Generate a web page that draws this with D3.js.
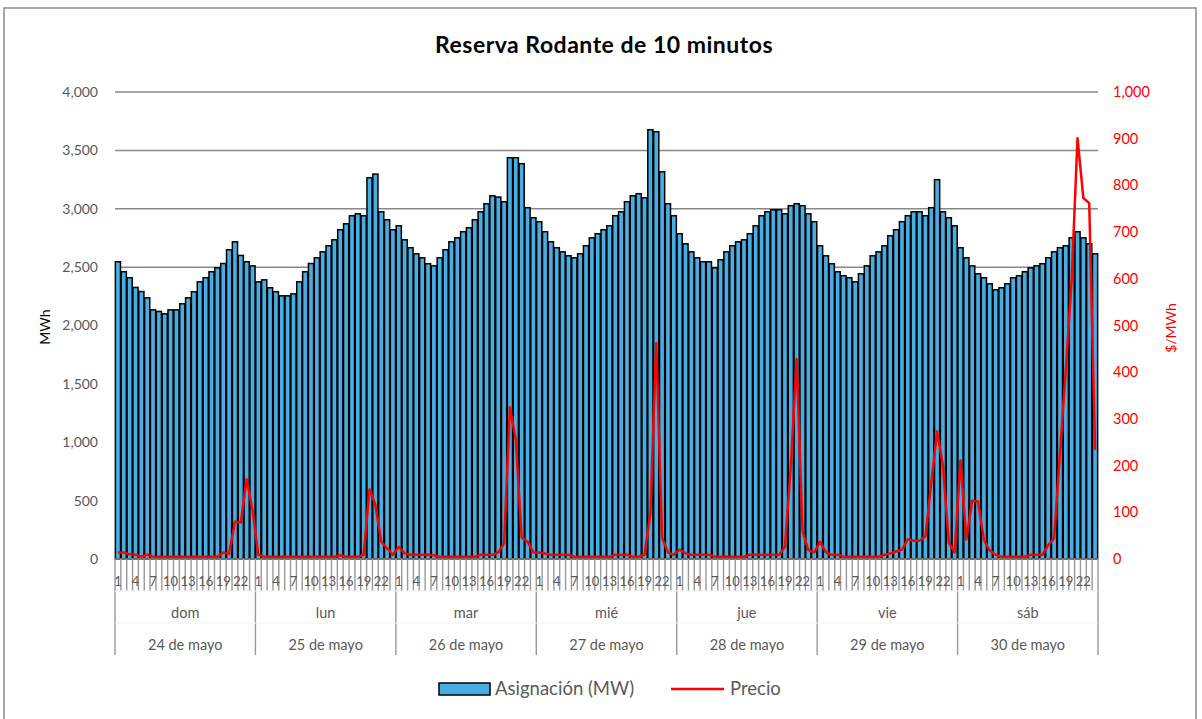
<!DOCTYPE html>
<html>
<head>
<meta charset="utf-8">
<script src="https://cdn.jsdelivr.net/npm/d3@7"></script>
<style>
  body { margin: 0; background: #fff; }
  svg { display: block; font-family: Lato, "Open Sans", sans-serif; }
</style>
</head>
<body>
<svg id="chart" width="1202" height="719"></svg>
<script>
// days and dates of the week
const dias = ["dom", "lun", "mar", "mié", "jue", "vie", "sáb"];
const fechas = ["24 de mayo", "25 de mayo", "26 de mayo", "27 de mayo", "28 de mayo", "29 de mayo", "30 de mayo"];
const horas = d3.range(1, 25);
const horasConEtiqueta = [1, 4, 7, 10, 13, 16, 19, 22];

// Asignación (MW), 24 values per day
const asignacion = [
  2546,2460,2409,2326,2291,2237,2134,2120,2100,2134,2134,2186,2237,2289,2374,2409,2460,2494,2531,2649,2717,2600,2546,2511,
  2374,2391,2323,2289,2254,2254,2271,2374,2460,2531,2580,2631,2683,2734,2820,2871,2940,2957,2940,3266,3297,2974,2906,2820,
  2854,2734,2666,2614,2580,2529,2511,2580,2649,2717,2751,2803,2837,2906,2974,3043,3111,3100,3060,3437,3437,3386,3009,2923,
  2889,2803,2717,2666,2631,2597,2580,2614,2683,2751,2786,2820,2854,2940,2974,3060,3111,3129,3094,3677,3660,3317,3043,2940,
  2786,2700,2631,2580,2546,2546,2494,2563,2631,2683,2717,2734,2786,2854,2940,2974,2991,2991,2957,3026,3043,3026,2957,2889,
  2683,2597,2529,2460,2426,2409,2374,2443,2511,2597,2631,2683,2769,2820,2889,2940,2974,2974,2940,3009,3249,2974,2923,2854,
  2666,2580,2511,2443,2409,2357,2306,2323,2357,2409,2426,2460,2494,2511,2529,2580,2631,2666,2683,2751,2803,2751,2700,2614
];

// Precio ($/MWh), 24 values per day
const precio = [
  14,14,10,9,5,9,5,5,5,5,5,5,5,5,5,5,5,5,14,11,80,78,171,105,
  9,5,5,5,5,5,5,5,5,5,5,5,5,5,8,5,5,5,9,149,116,37,23,9,
  26,12,9,9,9,9,8,5,5,5,5,5,5,5,9,9,9,14,34,325,255,46,37,14,
  14,12,9,9,9,9,5,5,5,5,5,5,5,9,9,9,5,5,9,98,462,46,14,9,
  20,12,9,9,9,9,5,5,5,5,5,5,9,9,9,9,9,9,26,200,428,59,19,14,
  37,14,9,9,5,5,5,5,5,5,5,9,12,16,20,42,39,39,48,162,273,200,35,14,
  211,42,125,123,41,18,9,5,5,5,5,5,9,9,9,30,44,226,405,598,901,773,762,234
];

const ticksMW = [0, 500, 1000, 1500, 2000, 2500, 3000, 3500, 4000];
const ticksPrecio = [0, 100, 200, 300, 400, 500, 600, 700, 800, 900, 1000];

const svg = d3.select("#chart");
const plotL = 115, plotR = 1098, plotT = 92, plotB = 559;
const grey = "#595959";

// outer frame
svg.append("rect").attr("x", 4).attr("y", 8).attr("width", 1192).attr("height", 720)
  .attr("fill", "none").attr("stroke", "#8a8a8a").attr("stroke-width", 1.5);

const n = asignacion.length;
const x = d3.scaleBand().domain(d3.range(n)).range([plotL, plotR]).paddingInner(0.12).paddingOuter(0.06);
const step = (plotR - plotL) / n;
const y = d3.scaleLinear().domain([0, 4000]).range([plotB, plotT]);
const y2 = d3.scaleLinear().domain([0, 1000]).range([plotB, plotT]);

// gridlines
svg.append("g").selectAll("line").data(ticksMW).join("line")
  .attr("x1", plotL).attr("x2", plotR)
  .attr("y1", d => y(d)).attr("y2", d => y(d))
  .attr("stroke", "#888").attr("stroke-width", 1.5);

// left axis labels
svg.append("g").selectAll("text").data(ticksMW).join("text")
  .attr("x", 98).attr("y", d => y(d)).attr("dy", "0.35em")
  .attr("text-anchor", "end").attr("font-size", 14).attr("fill", grey)
  .text(d3.format(","));

// right axis labels
svg.append("g").selectAll("text").data(ticksPrecio).join("text")
  .attr("x", 1113).attr("y", d => y2(d)).attr("dy", "0.35em")
  .attr("font-size", 14.5).attr("fill", "#ff0000")
  .text(d3.format(","));

svg.append("text").attr("transform", "translate(50,327) rotate(-90)")
  .attr("text-anchor", "middle").attr("font-size", 14).attr("fill", "#000").text("MWh");
svg.append("text").attr("transform", "translate(1176,328) rotate(-90)")
  .attr("text-anchor", "middle").attr("font-size", 14).attr("fill", "#ff0000").text("$/MWh");

// bars
svg.append("g").selectAll("rect").data(asignacion).join("rect")
  .attr("x", (d, i) => x(i)).attr("width", x.bandwidth())
  .attr("y", d => y(d)).attr("height", d => plotB - y(d))
  .attr("fill", "#47ADE2").attr("stroke", "#000").attr("stroke-width", 1.5);

// x axis line
svg.append("line").attr("x1", plotL).attr("x2", plotR).attr("y1", plotB).attr("y2", plotB)
  .attr("stroke", "#888").attr("stroke-width", 1.5);

// hour tick lines
svg.append("g").selectAll("line").data(d3.range(n + 1)).join("line")
  .attr("x1", i => plotL + i * step).attr("x2", i => plotL + i * step)
  .attr("y1", plotB).attr("y2", i => i % 24 === 0 ? 655 : 591)
  .attr("stroke", "#999").attr("stroke-width", 1.4);

// faint row separators
[591, 623].forEach(yy => svg.append("line").attr("x1", plotL).attr("x2", plotR)
  .attr("y1", yy).attr("y2", yy).attr("stroke", "#f4f4f4").attr("stroke-width", 1));

// hour labels
const horaIdx = d3.range(n).filter(i => horasConEtiqueta.includes(horas[i % 24]));
svg.append("g").selectAll("text").data(horaIdx).join("text")
  .attr("x", i => x(i) + x.bandwidth() / 2).attr("y", 581).attr("dy", "0.35em")
  .attr("text-anchor", "middle").attr("font-size", 13).attr("fill", grey)
  .text(i => horas[i % 24]);

// day and date labels
svg.append("g").selectAll("text").data(dias).join("text")
  .attr("x", (d, k) => plotL + (k * 24 + 12) * step).attr("y", 613).attr("dy", "0.35em")
  .attr("text-anchor", "middle").attr("font-size", 14.5).attr("fill", grey).text(d => d);
svg.append("g").selectAll("text").data(fechas).join("text")
  .attr("x", (d, k) => plotL + (k * 24 + 12) * step).attr("y", 645).attr("dy", "0.35em")
  .attr("text-anchor", "middle").attr("font-size", 14.5).attr("fill", grey).text(d => d);

// price line
const linea = d3.line().x((d, i) => x(i) + x.bandwidth() / 2).y(d => y2(d));
svg.append("path").datum(precio).attr("d", linea)
  .attr("fill", "none").attr("stroke", "#ff0000").attr("stroke-width", 2.5)
  .attr("stroke-linejoin", "round");

// title
svg.append("text").attr("x", 604).attr("y", 45).attr("dy", "0.35em")
  .attr("text-anchor", "middle").attr("font-size", 23).attr("font-weight", "bold")
  .attr("letter-spacing", 0.5).attr("fill", "#000").text("Reserva Rodante de 10 minutos");

// legend
const lg = svg.append("g");
lg.append("rect").attr("x", 439).attr("y", 683).attr("width", 51).attr("height", 12)
  .attr("fill", "#47ADE2").attr("stroke", "#000").attr("stroke-width", 1.5);
lg.append("text").attr("x", 495).attr("y", 689).attr("dy", "0.35em")
  .attr("font-size", 18.5).attr("fill", grey).text("Asignación (MW)");
lg.append("line").attr("x1", 671).attr("x2", 724).attr("y1", 689).attr("y2", 689)
  .attr("stroke", "#ff0000").attr("stroke-width", 2.5);
lg.append("text").attr("x", 730).attr("y", 689).attr("dy", "0.35em")
  .attr("font-size", 18.5).attr("fill", grey).text("Precio");
</script>
</body>
</html>
